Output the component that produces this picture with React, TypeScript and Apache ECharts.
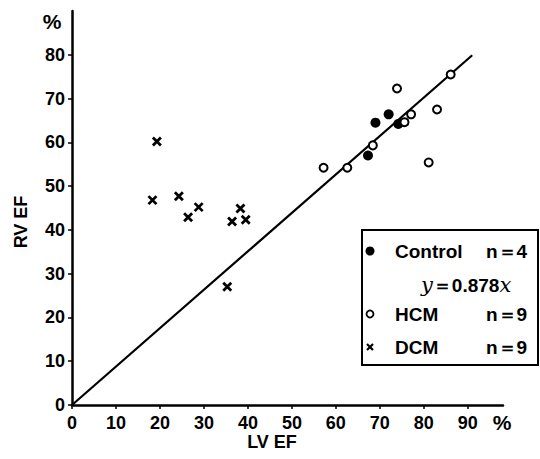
import React, { useEffect, useRef } from "react";
import * as echarts from "echarts";

const lvControl = [69.0, 72.0, 74.2, 67.3];
const rvControl = [64.5, 66.4, 64.2, 57.0];
const lvHCM = [73.9, 86.1, 77.1, 75.6, 83.0, 68.4, 81.1, 57.2, 62.6];
const rvHCM = [72.3, 75.5, 66.4, 64.6, 67.5, 59.3, 55.4, 54.2, 54.2];
const lvDCM = [19.3, 18.3, 24.3, 26.4, 28.8, 38.3, 36.4, 39.5, 35.3];
const rvDCM = [60.2, 46.8, 47.7, 42.9, 45.2, 44.9, 41.9, 42.3, 27.0];
const slope = 0.878;
const lineEndX = 91;
const xTicks = [0, 10, 20, 30, 40, 50, 60, 70, 80, 90];
const yTicks = [0, 10, 20, 30, 40, 50, 60, 70, 80];

const FONT = "'Liberation Sans', Arial, sans-serif";

export default function App() {
  const ref = useRef<HTMLDivElement>(null);
  useEffect(() => {
    if (!ref.current) return;
    const chart = echarts.init(ref.current, null, { renderer: "svg" });
    const zip = (a: number[], b: number[]) => a.map((v, i) => [v, b[i]]);
    const legendText = (text: string, x: number, y: number) => ({
      type: "text",
      x,
      y,
      z: 11,
      style: { text, fontSize: 19, fontWeight: "bold", fontFamily: FONT, fill: "#000", verticalAlign: "middle" },
    });
    chart.setOption({
      animation: false,
      backgroundColor: "#fff",
      grid: { left: 72, top: 11, width: 431, height: 394 },
      xAxis: {
        type: "value",
        min: 0,
        max: 98,
        interval: 10,
        splitLine: { show: false },
        axisLine: { lineStyle: { color: "#000", width: 2.5 } },
        axisTick: { length: 4, lineStyle: { color: "#000", width: 1.5 }, customValues: xTicks },
        axisLabel: {
          customValues: xTicks,
          color: "#000",
          fontSize: 18,
          fontWeight: "bold",
          fontFamily: FONT,
          margin: 9,
        },
      },
      yAxis: {
        type: "value",
        min: 0,
        max: 90,
        interval: 10,
        splitLine: { show: false },
        axisLine: { lineStyle: { color: "#000", width: 2.5 } },
        axisTick: { length: 4, lineStyle: { color: "#000", width: 1.5 }, customValues: yTicks },
        axisLabel: {
          customValues: yTicks,
          color: "#000",
          fontSize: 18,
          fontWeight: "bold",
          fontFamily: FONT,
          margin: 7,
        },
      },
      series: [
        {
          name: "Regression",
          type: "line",
          data: [
            [0, 0],
            [lineEndX, slope * lineEndX],
          ],
          showSymbol: false,
          lineStyle: { color: "#000", width: 2.2 },
          z: 1,
        },
        {
          name: "Control",
          type: "scatter",
          data: zip(lvControl, rvControl),
          symbol: "circle",
          symbolSize: 10,
          itemStyle: { color: "#000", opacity: 1 },
          z: 3,
        },
        {
          name: "HCM",
          type: "scatter",
          data: zip(lvHCM, rvHCM),
          symbol: "circle",
          symbolSize: 8,
          itemStyle: { color: "#fff", borderColor: "#000", borderWidth: 2, opacity: 1 },
          z: 3,
        },
        {
          name: "DCM",
          type: "scatter",
          data: zip(lvDCM, rvDCM),
          symbol: "path://M0,0L10,10M10,0L0,10",
          symbolSize: 8,
          itemStyle: { color: "none", borderColor: "#000", borderWidth: 2.8, opacity: 1 },
          z: 3,
        },
      ],
      graphic: [
        {
          type: "text",
          x: 52,
          y: 21,
          style: { text: "%", fontSize: 21, fontWeight: "bold", fontFamily: FONT, fill: "#000", align: "center", verticalAlign: "middle" },
        },
        {
          type: "text",
          x: 502,
          y: 422,
          style: { text: "%", fontSize: 21, fontWeight: "bold", fontFamily: FONT, fill: "#000", align: "center", verticalAlign: "middle" },
        },
        {
          type: "text",
          x: 272,
          y: 442,
          style: { text: "LV EF", fontSize: 18, fontWeight: "bold", fontFamily: FONT, fill: "#000", align: "center", verticalAlign: "middle" },
        },
        {
          type: "text",
          x: 21,
          y: 222,
          rotation: Math.PI / 2,
          style: { text: "RV EF", fontSize: 18, fontWeight: "bold", fontFamily: FONT, fill: "#000", align: "center", verticalAlign: "middle" },
        },
        {
          type: "rect",
          shape: { x: 362, y: 230, width: 176, height: 135 },
          style: { fill: "#fff", stroke: "#000", lineWidth: 2 },
          z: 10,
        },
        {
          type: "circle",
          shape: { cx: 370, cy: 251, r: 4.5 },
          style: { fill: "#000" },
          z: 11,
        },
        {
          type: "circle",
          shape: { cx: 370, cy: 314, r: 3.5 },
          style: { fill: "#fff", stroke: "#000", lineWidth: 1.8 },
          z: 11,
        },
        {
          type: "line",
          shape: { x1: 367, y1: 344, x2: 373, y2: 350 },
          style: { stroke: "#000", lineWidth: 2.2 },
          z: 11,
        },
        {
          type: "line",
          shape: { x1: 373, y1: 344, x2: 367, y2: 350 },
          style: { stroke: "#000", lineWidth: 2.2 },
          z: 11,
        },
        legendText("Control", 395, 251),
        legendText("n＝4", 486, 251),
        {
          type: "text",
          x: 421,
          y: 285,
          z: 11,
          style: {
            text: "{i|y}{b|＝0.878}{i|x}",
            verticalAlign: "middle",
            rich: {
              i: { fontSize: 21, fontStyle: "italic", fontFamily: "'DejaVu Serif', 'Liberation Serif', serif", fill: "#000" },
              b: { fontSize: 19, fontWeight: "bold", fontFamily: FONT, fill: "#000" },
            },
          },
        },
        legendText("HCM", 395, 314),
        legendText("n＝9", 486, 314),
        legendText("DCM", 395, 347),
        legendText("n＝9", 486, 347),
      ],
    });
    return () => chart.dispose();
  }, []);
  return <div ref={ref} style={{ width: 540, height: 459, position: "absolute", left: 0, top: 0 }} />;
}
